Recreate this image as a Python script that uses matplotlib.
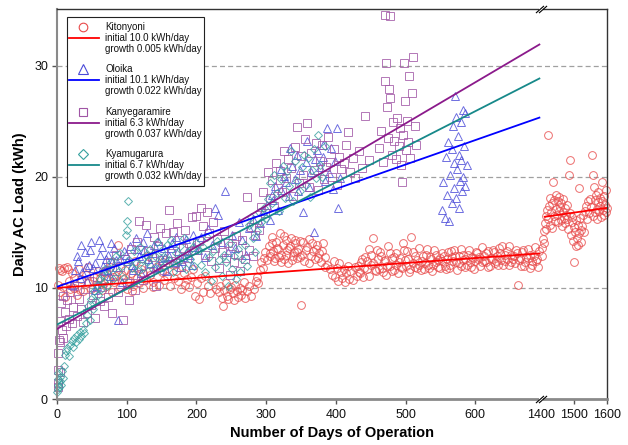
import numpy as np
import matplotlib
matplotlib.use("Agg")
import matplotlib.pyplot as plt
from matplotlib.path import Path
from matplotlib.patches import Rectangle
from matplotlib.lines import Line2D

plt.rcParams['font.family'] = ['Liberation Sans', 'DejaVu Sans']

# ------------------------------------------------------------------ data
names = ["Kitonyoni", "Oloika", "Kanyegaramire", "Kyamugarura"]
initial = [10.0, 10.1, 6.3, 6.7]
growth = [0.005, 0.022, 0.037, 0.032]

kit_days = [
    1, 3, 5, 7, 9, 12, 14, 17, 19, 22,
    25, 28, 31, 34, 38, 41, 45, 49, 53, 57,
    61, 64, 67, 70, 73, 76, 79, 82, 85, 88,
    91, 94, 97, 100, 103, 106, 109, 112, 115, 118,
    121, 124, 127, 130, 134, 138, 142, 146, 150, 154,
    158, 162, 166, 170, 174, 178, 182, 186, 190, 195,
    198, 201, 204, 207, 210, 213, 216, 220, 224, 228,
    232, 234, 236, 238, 240, 242, 244, 246, 248, 250,
    252, 254, 256, 258, 260, 262, 264, 266, 268, 270,
    273, 276, 279, 282, 285,
    287, 289, 291, 293, 295, 297, 299, 301,
    304, 306, 308, 310, 312, 314, 316, 318, 320, 322,
    324, 326, 328, 330, 332, 334, 336, 338, 340, 342,
    344, 346, 348, 350, 352, 355, 358, 361, 364, 367,
    370, 373, 376, 379, 382, 385, 388, 391, 394, 397,
    399, 401, 403, 405, 407, 409, 411, 413, 415, 417,
    419, 421, 424, 427, 430,
    433, 436, 439, 442, 445, 448, 451, 454, 457, 460,
    463, 466, 469, 472, 475, 478, 481, 484, 487, 490,
    493, 496, 499, 502, 505, 508, 511, 514, 517, 520,
    523, 526, 529, 532, 535, 538, 541, 544, 547, 550,
    553, 556, 559, 562, 565, 568, 571, 574, 577, 580,
    583, 586, 589, 592, 595, 598, 601, 604, 607, 610,
    613, 616, 619, 622, 625, 628, 631, 634, 637, 640,
    643, 646, 649, 652, 655, 658, 661, 664, 667, 670,
    673, 676, 679, 682, 685, 688, 690, 691,
    305, 309, 313, 317, 321, 325, 329, 333, 337, 341,
    345, 349, 353, 357, 362, 366, 371, 375, 380, 384,
    432, 435, 438, 441, 444, 447, 450, 453, 456, 459,
    462, 465, 468, 471, 474, 477, 480, 483, 486, 489,
    492, 495, 498, 501, 504, 507, 510, 513, 516, 519,
    522, 525, 528, 531, 534, 537, 540, 543, 546, 549,
    552, 555, 558, 561, 564, 567, 570, 573, 576, 579,
    582, 585, 588, 591, 594, 597, 600, 603, 606, 609,
    612, 615, 618, 621, 624, 627, 630, 633, 636, 639,
    642, 645, 648, 651, 654, 657, 660, 663, 666, 669,
    672, 675, 678, 681, 684, 687,
    4, 10, 16, 24, 33, 44, 52, 59, 68, 80,
    93, 108, 123, 137, 152, 168, 183, 192,
    1401, 1403, 1405, 1407, 1409, 1411, 1413, 1415, 1417, 1419,
    1421, 1423, 1425, 1427, 1429, 1431, 1433, 1435, 1437, 1439,
    1441, 1443, 1445, 1447, 1449, 1451, 1453, 1455, 1457, 1459,
    1461, 1463, 1465, 1467, 1469, 1471, 1473, 1475, 1477, 1479,
    1482, 1484, 1486, 1488, 1490, 1492, 1494, 1496, 1498, 1500,
    1502, 1504, 1506, 1508, 1510, 1512, 1514, 1516, 1518, 1520,
    1522, 1525, 1528, 1531, 1534, 1537, 1540, 1543, 1546, 1549,
    1552, 1554, 1556, 1558, 1560, 1562, 1564, 1566, 1568, 1570,
    1572, 1574, 1576, 1578, 1580, 1582, 1584, 1586, 1588, 1590,
    1592, 1594, 1596, 1598, 1600,
]
kit_load = [
    10.3, 11.8, 9.6, 11.5, 10.1, 9.2, 11.9, 10.6, 9.9, 11.3,
    10.0, 9.4, 11.7, 10.8, 9.7, 11.2, 10.4, 9.9, 11.0, 10.3,
    10.9, 9.8, 11.4, 10.2, 10.7, 11.9, 9.6, 10.5, 11.1, 13.9,
    10.1, 10.8, 11.6, 9.9, 10.6, 11.3, 10.2, 12.4, 10.9, 10.4,
    11.7, 10.0, 10.8, 12.9, 11.2, 10.5, 11.9, 10.3, 11.4, 10.7,
    11.1, 10.2, 12.1, 11.5, 10.6, 9.9, 11.3, 10.8, 10.1, 11.7,
    9.3, 10.4, 9.0, 10.9, 9.6, 11.1, 10.2, 9.5, 10.7, 9.9,
    9.6, 10.2, 9.1, 8.4, 9.8, 10.4, 9.3, 9.0, 9.9, 10.1,
    9.5, 8.9, 10.3, 9.7, 9.2, 10.0, 9.4, 9.8, 10.5, 9.1,
    9.7, 10.2, 9.3, 9.9, 10.6,
    11.0, 10.4, 11.6, 12.3, 11.8, 12.7, 13.2, 12.5,
    13.8, 12.9, 14.6, 13.3, 12.4, 14.1, 13.6, 12.8, 14.9, 13.0,
    13.9, 12.6, 14.3, 13.4, 12.2, 13.8, 14.5, 12.9, 13.2, 14.0,
    12.7, 13.5, 14.2, 8.5, 13.0, 12.4, 13.7, 14.4, 12.9, 13.3,
    12.6, 13.9, 13.1, 12.3, 14.0, 12.8, 12.1, 11.7, 11.2, 12.4,
    11.0, 11.8, 10.6, 12.2, 11.4, 10.9, 11.7, 10.5, 11.3, 12.0,
    10.8, 11.5, 10.7, 11.9, 11.1,
    11.4, 12.3, 11.0, 12.8, 11.7, 13.5, 12.1, 14.5, 11.5, 12.6,
    13.2, 11.8, 12.4, 11.2, 13.8, 12.0, 12.7, 11.6, 13.1, 12.3,
    11.9, 14.0, 12.5, 13.3, 11.4, 14.6, 12.2, 12.9, 11.8, 13.6,
    12.4, 11.7, 13.0, 12.1, 12.8, 11.5, 13.4, 12.3, 11.9, 12.7,
    13.1, 12.0, 12.6, 11.8, 13.3, 12.4, 12.9, 11.6, 12.2, 13.5,
    12.5, 11.9, 13.0, 12.3, 12.8, 11.7, 13.2, 12.6, 12.0, 13.7,
    12.4, 13.1, 11.9, 12.7, 13.4, 12.2, 12.9, 13.6, 12.5, 12.1,
    13.0, 12.6, 13.8, 12.3, 12.9, 13.4, 10.3, 12.7, 13.2, 12.0,
    12.8, 13.5, 11.8, 12.4, 13.7, 12.6, 11.9, 13.3,
    13.1, 14.0, 12.7, 13.5, 12.3, 14.7, 13.0, 13.6, 12.5, 14.3,
    13.2, 12.8, 14.1, 13.4, 12.2, 14.0, 13.5, 12.7, 13.3, 11.9,
    12.0, 11.3, 12.6, 11.8, 12.4, 11.1, 13.0, 12.2, 11.6, 13.4,
    11.7, 12.9, 11.4, 12.5, 12.0, 13.1, 11.5, 12.8, 12.1, 11.3,
    12.7, 11.8, 13.4, 12.0, 12.6, 11.7, 13.2, 11.9, 12.5, 12.1,
    11.6, 12.9, 12.2, 13.5, 11.8, 12.6, 12.1, 13.0, 12.5, 11.8,
    12.4, 12.9, 11.7, 13.2, 12.1, 12.8, 13.4, 12.3, 12.9, 12.0,
    13.0, 12.6, 12.1, 13.4, 11.9, 12.7, 12.4, 13.1, 12.8, 12.3,
    12.9, 12.3, 13.3, 12.0, 12.6, 13.2, 12.4, 12.1, 13.1, 13.8,
    12.4, 13.3, 12.1, 13.0, 12.6, 12.2, 13.1, 12.5, 12.0, 13.4,
    12.3, 12.7, 13.0, 12.1, 12.9, 12.4,
    11.6, 11.8, 11.7, 10.9, 9.8, 11.9, 10.6, 11.5, 10.4, 11.0,
    11.2, 9.7, 11.3, 10.1, 12.3, 10.9, 10.3, 11.0,
    12.9, 13.6, 14.4, 15.1, 14.0, 15.8, 16.5, 15.3, 17.0, 23.8,
    16.2, 17.4, 15.7, 18.1, 16.8, 17.6, 15.4, 19.5, 16.5, 17.9,
    16.0, 18.4, 17.1, 16.6, 17.8, 15.9, 18.2, 16.9, 17.3, 16.1,
    17.6, 15.6, 16.8, 18.0, 16.3, 17.2, 15.8, 16.6, 17.5, 16.2,
    15.3, 20.2, 21.5, 16.7, 14.8, 15.9, 16.4, 14.2, 15.5, 12.3,
    15.0, 13.8, 16.1, 14.5, 15.7, 13.9, 19.0, 14.9, 16.3, 15.2,
    14.1, 15.6, 16.6, 15.0, 16.9, 17.4, 16.2, 17.8, 16.7, 18.0,
    17.3, 22.0, 20.2, 16.5, 19.1, 17.9, 16.8, 18.4, 17.1, 16.2,
    17.7, 18.6, 16.9, 17.4, 18.1, 16.4, 17.8, 19.5, 17.0, 16.6,
    18.3, 17.5, 16.8, 18.8, 17.2,
]

olo_days = [
    22, 26, 30, 33, 36, 40, 43, 46, 49, 52,
    55, 58, 61, 64, 67, 70, 73, 76, 79, 82,
    85, 88, 90, 93, 96,
    101, 105, 109, 113, 117, 121, 125, 129, 133, 137,
    141, 145, 149, 153, 157, 161, 165, 169, 173, 177,
    181, 185, 189, 193, 197,
    202, 207, 212, 217, 222, 227, 231, 236, 241, 246,
    251, 256, 261, 266, 271, 276, 281, 286, 291, 296,
    301, 305, 309, 313, 317, 321, 325, 329, 333, 337,
    341, 345, 349, 353, 357, 361, 365, 369, 373, 377,
    381, 385, 387, 390, 393, 396, 399, 401, 403, 406,
    28, 35, 42, 48, 54, 60, 66, 72, 78, 84,
    99, 107, 115, 123, 131, 139, 147, 155, 163, 171,
    179, 187, 195, 310, 322, 334, 346, 358, 370, 382,
    552, 554, 556, 558, 560, 561, 563, 564, 566, 567,
    568, 569, 570, 571, 572, 573, 574, 575, 576, 577,
    578, 579, 580, 581, 582, 583, 584, 585, 586, 588,
]
olo_load = [
    10.3, 11.6, 12.4, 10.9, 11.4, 13.2, 10.6, 12.1, 14.1, 11.8,
    9.8, 10.2, 13.0, 13.7, 11.5, 12.6, 13.0, 11.1, 12.3, 13.6,
    11.9, 7.1, 12.7, 10.5, 13.3,
    12.4, 13.8, 11.6, 14.5, 12.9, 11.3, 13.4, 14.9, 12.2, 13.1,
    11.8, 14.2, 12.7, 13.6, 11.5, 12.9, 14.0, 12.3, 13.3, 11.9,
    12.8, 14.4, 13.0, 12.1, 13.7,
    13.4, 14.6, 12.8, 15.3, 13.9, 17.2, 16.6, 14.1, 18.7, 13.2,
    14.8, 13.6, 15.9, 14.3, 13.0, 15.4, 16.2, 14.7, 15.8, 16.9,
    17.5, 16.1, 18.4, 19.2, 17.0, 18.8, 20.1, 19.5, 18.3, 21.0,
    19.8, 22.0, 20.6, 16.8, 21.3, 19.1, 20.4, 15.0, 22.4, 20.9,
    21.8, 19.6, 24.4, 20.3, 22.6, 18.9, 21.4, 24.4, 17.2, 19.9,
    12.9, 13.9, 11.9, 13.4, 12.2, 14.3, 12.0, 11.6, 14.0, 12.5,
    13.0, 12.1, 13.5, 14.1, 12.6, 13.9, 11.9, 12.8, 13.6, 14.6,
    12.4, 13.3, 14.8, 17.9, 20.7, 22.6, 18.7, 23.2, 21.6, 22.9,
    17.0, 19.5, 16.3, 21.8, 18.4, 23.1, 16.0, 20.2, 22.5, 17.6,
    24.6, 19.0, 21.2, 27.3, 18.1, 25.4, 20.7, 23.7, 17.2, 22.0,
    19.6, 24.9, 21.5, 18.7, 26.0, 20.0, 22.8, 19.2, 25.7, 21.1,
]

kan_days = [
    1, 1, 2, 2, 3, 4, 4, 5, 6, 7,
    8, 9,
    11, 13, 15, 17, 19, 21, 23, 25, 28, 31,
    34, 37, 40, 43, 46, 49, 52, 55, 58, 61,
    64, 67, 70, 73, 76, 79, 82, 85, 88, 91,
    94, 97, 100, 103, 106, 109, 112, 115, 118, 121,
    124, 127, 130, 133, 136, 139, 142, 145, 148, 151,
    154, 157, 160, 163, 166, 169, 172, 175, 178, 181,
    184, 187, 190, 193, 196,
    200, 203, 206, 209, 212, 215, 218, 221, 224, 227,
    230, 233, 236, 239, 242, 245, 248, 251, 254, 257,
    260, 263, 266, 269, 272, 275, 278, 281, 284, 287,
    290, 293, 296, 299, 302,
    305, 308, 311, 314, 317, 320, 323, 326, 329, 332,
    335, 338, 341, 344, 347, 350, 353, 356, 359, 362,
    365, 368, 371, 374, 377, 380, 383, 386, 389, 392,
    395, 398, 401, 404, 407,
    412, 415, 417, 420, 424, 428, 433, 438, 442, 447,
    462, 465, 468, 470, 471, 472, 473, 475, 476, 477,
    478, 480, 482, 484, 486, 488, 490, 492, 494, 495,
    496, 498, 499, 500, 502, 504, 505, 507, 509, 511,
    513, 515,
]
kan_load = [
    1.4, 2.6, 4.1, 1.1, 5.3, 2.4, 7.0, 5.1, 8.6, 6.2,
    9.3, 5.5,
    7.8, 6.6, 8.9, 7.2, 9.6, 6.8, 8.3, 10.2, 7.5, 9.0,
    8.1, 6.9, 9.9, 7.7, 10.6, 8.5, 9.4, 7.3, 11.0, 8.8,
    10.1, 8.4, 11.5, 9.2, 12.3, 7.7, 10.8, 13.0, 9.6, 11.9,
    7.1, 12.6, 10.4, 8.9, 13.5, 11.2, 9.8, 14.1, 16.0, 12.0,
    10.7, 15.7, 13.3, 11.4, 12.8, 14.6, 10.2, 13.8, 15.4, 12.5,
    11.6, 14.9, 17.0, 13.1, 15.0, 12.2, 15.8, 14.3, 11.9, 13.6,
    15.2, 12.7, 14.0, 16.4, 13.4,
    16.5, 14.2, 17.2, 15.6, 13.0, 16.8, 14.9, 12.4, 15.9, 13.6,
    14.4, 11.8, 13.2, 15.1, 12.7, 14.0, 11.2, 13.8, 12.3, 14.7,
    13.0, 11.5, 14.3, 12.6, 18.2, 13.4, 15.5, 12.9, 14.8, 16.1,
    15.2, 17.3, 18.6, 16.7, 20.4,
    18.1, 19.7, 17.4, 21.2, 19.0, 20.5, 18.6, 22.3, 19.9, 21.6,
    20.8, 18.3, 22.7, 24.5, 19.4, 21.9, 20.2, 23.4, 24.8, 19.1,
    22.1, 20.6, 23.0, 18.8, 21.4, 22.9, 19.8, 20.9, 23.6, 21.3,
    20.0, 22.5, 19.3, 21.8, 20.7,
    21.2, 22.9, 24.0, 20.4, 21.7, 19.9, 22.3, 20.8, 25.5, 21.5,
    22.6, 24.1, 21.3, 34.6, 28.6, 30.2, 26.3, 23.5, 27.9, 27.1,
    34.5, 22.0, 24.9, 23.2, 21.6, 25.3, 22.8, 24.4, 21.1, 19.5,
    23.8, 30.2, 26.8, 22.4, 25.0, 23.1, 29.1, 21.7, 27.5, 30.8,
    24.6, 22.9,
]

kya_days = [
    0, 1, 1, 2, 2, 3, 4, 5, 6, 7,
    8, 10,
    11, 13, 15, 17, 19, 21, 23, 25, 27, 29,
    31, 33, 35, 37, 39,
    41, 43, 45, 47, 49, 51, 53, 55, 57, 59,
    61, 63, 65, 67, 69,
    72, 75, 78, 81, 84, 87, 90, 93, 96, 99,
    100, 101, 102, 104, 107, 110, 113, 116, 119, 122,
    125, 128,
    131, 134, 137, 140, 143, 146, 149, 152, 155, 158,
    161, 164, 167, 170, 173, 176, 179, 182, 185, 188,
    191, 194, 197, 200, 203,
    206, 209, 212, 215, 218, 221, 224, 227, 230, 233,
    236, 239, 242, 245, 248, 251, 254, 257, 260, 263,
    266, 269, 272, 275, 278, 281, 284, 287, 290, 293,
    297, 300, 303, 306, 309, 312, 315, 318, 321, 324,
    327, 330, 333, 336, 339, 342, 345, 348, 351, 354,
    357, 360, 363, 366, 369, 372, 374, 377, 380, 384,
]
kya_load = [
    0.6, 1.3, 0.9, 1.8, 2.3, 1.1, 1.6, 2.0, 1.3, 2.5,
    1.9, 3.0,
    4.0, 4.3, 4.6, 3.9, 4.9, 5.2, 4.7, 5.5, 5.1, 5.8,
    5.4, 6.0, 5.7, 6.2, 5.9,
    6.8, 7.6, 8.4, 7.1, 9.0, 8.1, 9.7, 8.8, 10.3, 9.4,
    10.8, 9.9, 11.2, 10.5, 11.7,
    10.2, 11.6, 12.3, 10.8, 12.9, 11.4, 13.1, 12.0, 10.9, 14.8,
    16.0, 15.2, 17.8, 12.5, 11.8, 13.3, 12.2, 11.5, 13.7, 12.6,
    11.9, 13.0,
    12.4, 13.5, 11.7, 12.9, 14.1, 12.2, 13.3, 11.9, 12.7, 13.9,
    12.5, 14.3, 11.4, 13.1, 12.3, 13.8, 12.8, 14.5, 11.7, 13.2,
    12.6, 13.6, 12.0, 14.0, 13.4,
    12.1, 13.7, 11.4, 14.6, 12.8, 10.6, 13.3, 11.9, 14.2, 12.5,
    11.1, 13.0, 12.3, 10.2, 14.0, 11.7, 12.9, 10.8, 13.5, 11.4,
    12.6, 13.9, 12.0, 15.7, 16.4, 14.5, 13.2, 15.1, 16.8, 15.9,
    17.2, 16.3, 18.0, 19.4, 17.6, 20.2, 18.5, 16.9, 19.8, 21.0,
    18.1, 20.5, 19.2, 22.3, 17.8, 21.4, 19.6, 18.7, 20.9, 22.0,
    19.3, 21.7, 18.2, 20.6, 22.5, 19.9, 23.8, 21.1, 20.0, 22.8,
]

# fitted trend lines
fit_days = [0, 692]
kit_fit_days = [0, 692]
kit_fit_load = [10.0, 13.1]
kit_fit2_days = [1410, 1600]
kit_fit2_load = [16.4, 17.2]

xticks = [0, 100, 200, 300, 400, 500, 600, 1400, 1500, 1600]
yticks = [0, 10, 20, 30]

# ------------------------------------------------------------------ styles
line_cols = ['#ff0000', '#0000ff', '#8b1a8b', '#17898a']
mark_cols = ['#e84a4a', '#4a4ad8', '#a055a5', '#35a09e']
markers = ['o', '^', 's', 'D']
msizes = [5.6, 6.0, 5.2, 4.4]

XB = 695.0     # position of the axis break (left-segment units)
R = 0.47       # compression of the right segment


def fwd(x):
    x = np.asarray(x, dtype=float)
    return np.where(x <= XB, x, np.where(x < 1400, XB, XB + (x - 1400) * R))


def inv(y):
    y = np.asarray(y, dtype=float)
    return np.where(y <= XB, y, 1400 + (y - XB) / R)


W, H = 628, 445
fig = plt.figure(figsize=(W / 100, H / 100), dpi=100)
ax = fig.add_axes([57 / W, 1 - 399 / H, 550 / W, 390 / H])
ax.set_xscale('function', functions=(fwd, inv))
ax.set_xlim(0, 1600)
ax.set_ylim(0, 35.1)

for yv in [10, 20, 30]:
    ax.axhline(yv, color='#a0a0a0', lw=0.9, ls=(0, (4, 2.5)), zorder=0.5)

series = [(kit_days, kit_load), (olo_days, olo_load),
          (kan_days, kan_load), (kya_days, kya_load)]
for i, (d, v) in enumerate(series):
    ax.plot(d, v, ls='none', marker=markers[i], ms=msizes[i],
            mfc='none', mec=mark_cols[i], mew=0.7, alpha=0.8,
            zorder=2 + i * 0.1, clip_on=False)

# trend lines
ax.plot(kit_fit_days, kit_fit_load, color=line_cols[0], lw=1.3, zorder=4)
ax.plot(kit_fit2_days, kit_fit2_load, color=line_cols[0], lw=1.3, zorder=4)
for i in (1, 2, 3):
    ax.plot(fit_days, [initial[i] + growth[i] * d for d in fit_days],
            color=line_cols[i], lw=1.3, zorder=4)

# axes styling
for s in ('top', 'right'):
    ax.spines[s].set_color('#333333')
    ax.spines[s].set_linewidth(1.0)
ax.spines['bottom'].set_color('#8a8a8a')
ax.spines['bottom'].set_linewidth(2.0)
ax.spines['left'].set_color('#8a8a8a')
ax.spines['left'].set_linewidth(1.5)
ax.set_xticks(xticks)
ax.set_xticklabels([str(t) for t in xticks])
ax.set_yticks(yticks)
ax.tick_params(axis='both', direction='out', length=3.5, width=1.0,
               color='#555555', labelsize=9, labelcolor='#111111')
ax.tick_params(axis='x', pad=4)
ax.tick_params(axis='y', pad=3)
ax.xaxis.get_major_ticks()[7].tick1line.set_visible(False)
ax.set_xlabel('Number of Days of Operation', fontsize=10.5,
              fontweight='bold', labelpad=3)
ax.set_ylabel('Daily AC Load (kWh)', fontsize=10.5,
              fontweight='bold', labelpad=5)

# axis-break marks
brk = Path([(-1.0, -0.64), (0.45, 0.64), (-0.45, -0.64), (1.0, 0.64)],
           [Path.MOVETO, Path.LINETO, Path.MOVETO, Path.LINETO])
gap = Path([(-1.0, -1.0), (-0.3, 0.0), (0.3, 0.0)],
           [Path.MOVETO, Path.MOVETO, Path.LINETO])
for yy in (0, 1):
    ax.plot([1400], [yy], transform=ax.get_xaxis_transform(), ls='none',
            marker=gap, ms=8, mec='white', mew=3, clip_on=False, zorder=10)
    ax.plot([1400], [yy], transform=ax.get_xaxis_transform(), ls='none',
            marker=brk, ms=8, mec='black', mew=0.8, clip_on=False, zorder=11)

# legend (manual, three text lines per entry)
def fx(px):
    return px / W


def fy(py):
    return 1 - py / H


tf = fig.transFigure
fig.add_artist(Rectangle((fx(67), fy(186)), (204 - 67) / W, (186 - 17) / H,
                         transform=tf, facecolor='white', edgecolor='#222222',
                         lw=0.8, zorder=20))
for i in range(4):
    y0 = 27 + i * 42.4
    fig.add_artist(Line2D([fx(83)], [fy(y0)], transform=tf, ls='none',
                          marker=markers[i], ms=msizes[i] + 0.6, mfc='none',
                          mec=mark_cols[i], mew=0.8, zorder=21))
    fig.add_artist(Line2D([fx(69), fx(99)], [fy(y0 + 11), fy(y0 + 11)],
                          transform=tf, color=line_cols[i], lw=1.3, zorder=21))
    lines = [names[i], f'initial {initial[i]:.1f} kWh/day',
             f'growth {growth[i]:.3f} kWh/day']
    for k, t in enumerate(lines):
        fig.text(fx(105), fy(y0 + 11 * k), t, fontsize=7, va='center',
                 ha='left', color='#111111', zorder=22)

fig.savefig('out.png', dpi=100)
